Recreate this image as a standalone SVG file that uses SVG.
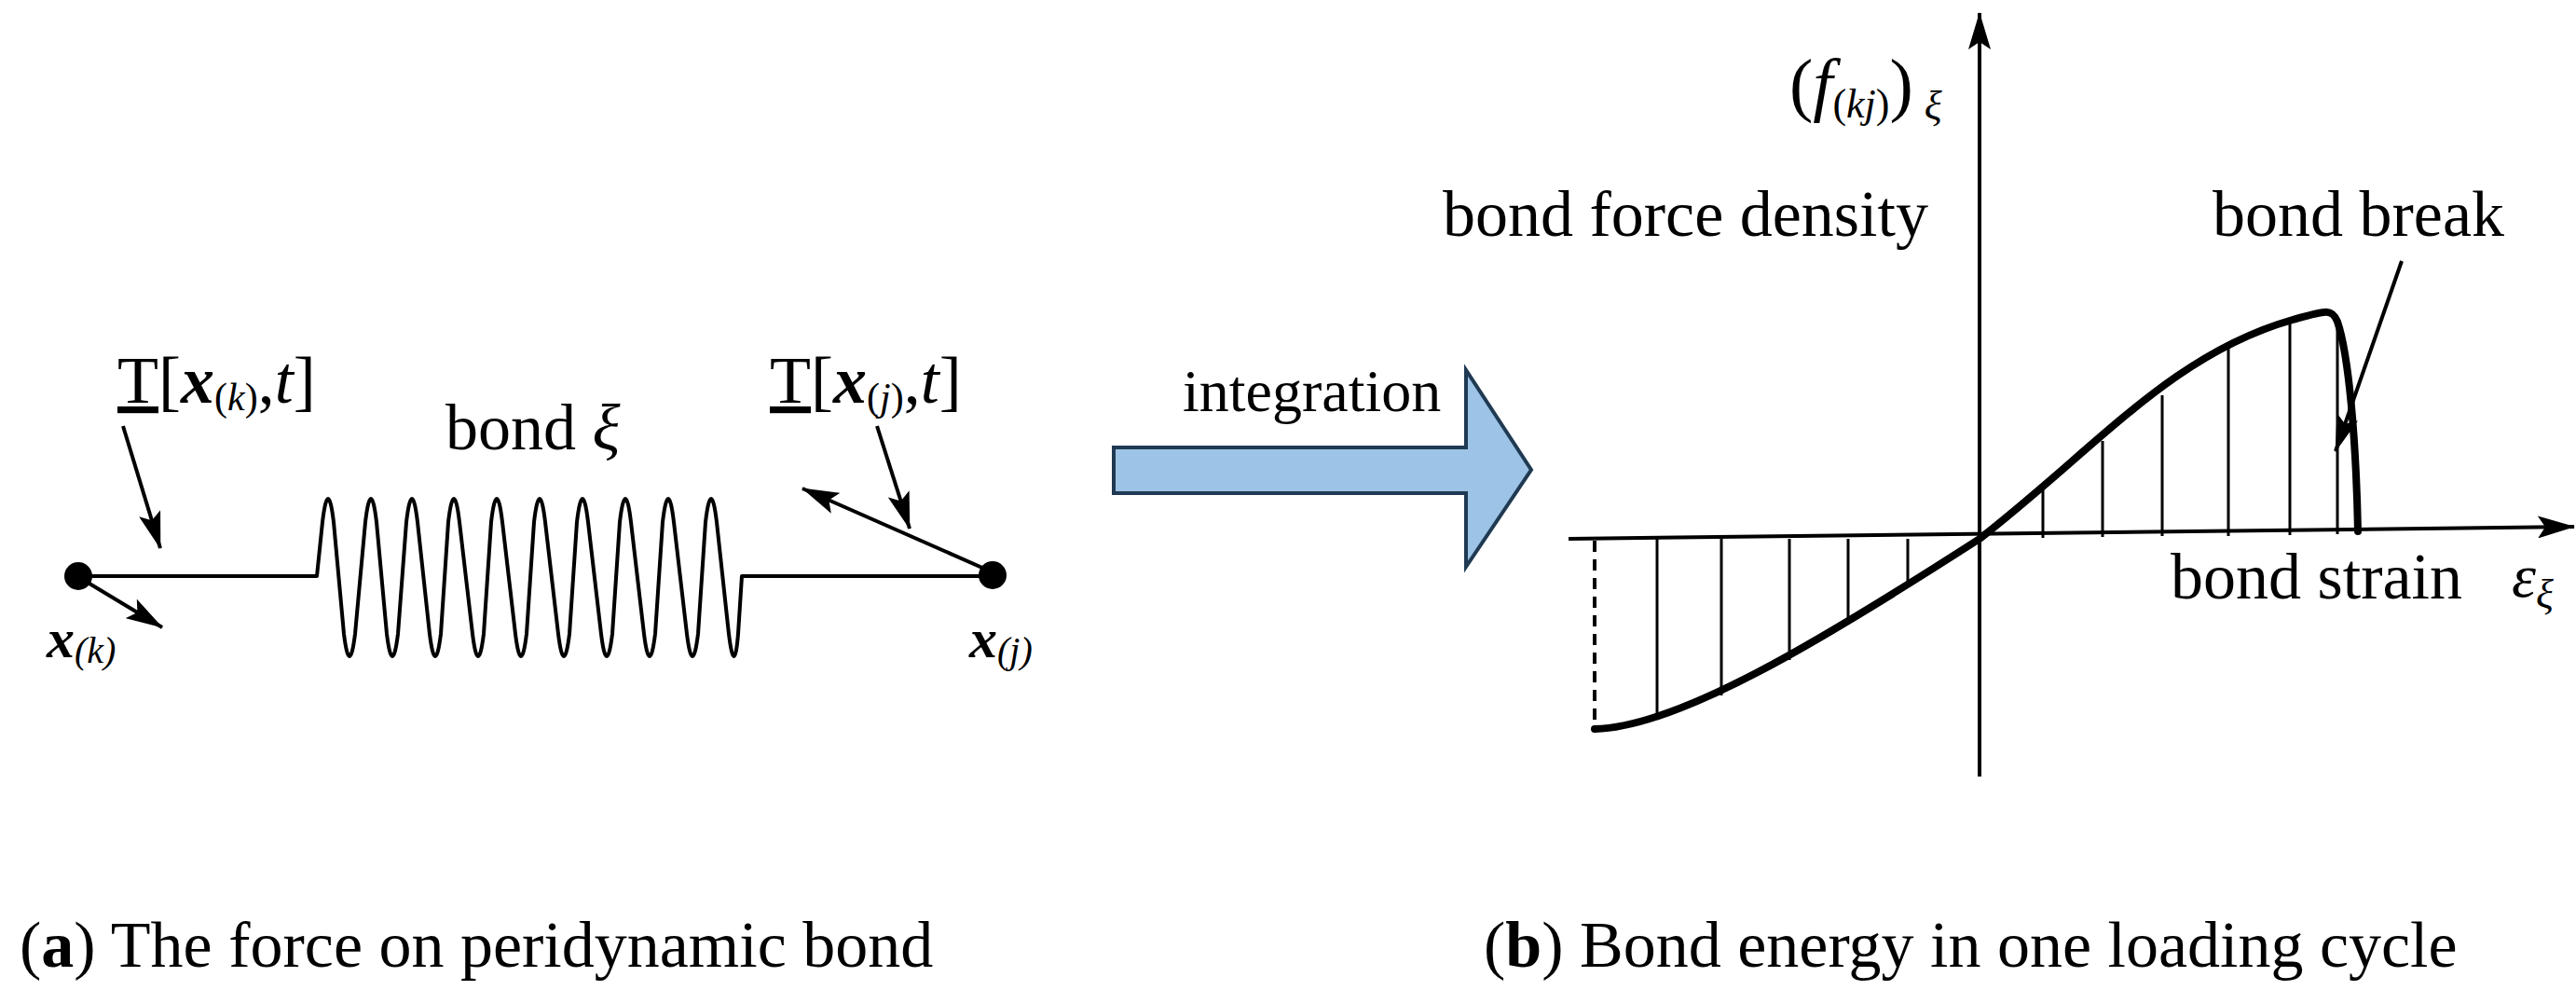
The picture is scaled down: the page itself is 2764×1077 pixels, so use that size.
<svg xmlns="http://www.w3.org/2000/svg" width="2764" height="1077" viewBox="0 0 2764 1077" font-family="'Liberation Serif','Times New Roman','DejaVu Serif',serif">
<style>
text{font-family:"Liberation Serif","Times New Roman","DejaVu Serif",serif;fill:#000}
.t{font-size:70px}
.l{stroke:#000;fill:none;stroke-width:4}
.th{stroke:#000;fill:none;stroke-width:8;stroke-linecap:round}
</style>
<defs>
<marker id="ahb" viewBox="0 0 40 24" refX="39" refY="12" markerWidth="40" markerHeight="24" markerUnits="userSpaceOnUse" orient="auto"><path d="M0,0 L40,12 L0,24 L8,12 Z" fill="#000"/></marker>
</defs>
<rect width="2764" height="1077" fill="#fff"/>
<g id="bond">
<path class="l" stroke-linejoin="round" d="M84,618 H340 L346,560 Q352,510 358,560 L369,680 Q375,728 381,680 L392,560 Q398,510 404,560 L415,680 Q421,728 427,680 L436,560 Q442,510 448,560 L461,680 Q467,728 473,680 L481,560 Q487,510 493,560 L507,680 Q513,728 519,680 L527,560 Q533,510 539,560 L553,680 Q559,728 565,680 L573,560 Q579,510 585,560 L599,680 Q605,728 611,680 L619,560 Q625,510 631,560 L645,680 Q651,728 657,680 L665,560 Q671,510 677,560 L691,680 Q697,728 703,680 L711,560 Q717,510 723,560 L737,680 Q743,728 749,680 L757,560 Q763,510 769,560 L782,680 Q788,728 792,680 L796,618 H1065"/>
</g>
<g id="node-xk"><circle cx="84" cy="618" r="15" fill="#000"/>
<text x="50" y="705" font-size="60" font-style="italic" font-weight="bold">x<tspan font-size="40" font-weight="normal" dy="6">(k)</tspan></text></g>
<g id="node-xj"><circle cx="1065" cy="617" r="15" fill="#000"/>
<text x="1040" y="705" font-size="60" font-style="italic" font-weight="bold">x<tspan font-size="40" font-weight="normal" dy="6">(j)</tspan></text></g>
<g id="labels-a">
<text x="126" y="432" font-size="72"><tspan text-decoration="underline">T</tspan>[<tspan font-style="italic" font-weight="bold">x</tspan><tspan font-size="42" dy="8">(<tspan font-style="italic">k</tspan>)</tspan><tspan dy="-8">,</tspan><tspan font-style="italic">t</tspan>]</text>
<text x="826" y="432" font-size="72"><tspan text-decoration="underline">T</tspan>[<tspan font-style="italic" font-weight="bold">x</tspan><tspan font-size="42" dy="8">(<tspan font-style="italic">j</tspan>)</tspan><tspan dy="-8">,</tspan><tspan font-style="italic">t</tspan>]</text>
<text x="478" y="482" class="t">bond <tspan font-style="italic">ξ</tspan></text>
</g>
<g id="connectors">
<line class="l" x1="86" y1="620" x2="174" y2="673" marker-end="url(#ahb)"/>
<line class="l" x1="132" y1="457" x2="172" y2="588" marker-end="url(#ahb)"/>
<line class="l" x1="941" y1="457" x2="976" y2="567" marker-end="url(#ahb)"/>
<line class="l" x1="1063" y1="613" x2="861" y2="524" marker-end="url(#ahb)"/>
<line class="l" x1="2577" y1="280" x2="2506" y2="484" stroke-width="3" marker-end="url(#ahb)"/>
</g>
<g id="integration-arrow">
<path d="M1195,480 H1573 V397 L1643,504 L1573,608 V529 H1195 Z" fill="#9dc3e6" stroke="#1f3a52" stroke-width="4"/>
<text x="1269" y="441" font-size="64">integration</text>
</g>
<g id="chart">
<line class="l" x1="2124" y1="833" x2="2124" y2="14" marker-end="url(#ahb)"/>
<line class="l" x1="1683" y1="578" x2="2762" y2="565" marker-end="url(#ahb)"/>
<line class="l" x1="1711" y1="580" x2="1711" y2="782" stroke-dasharray="12,8" stroke-width="3"/>
<g stroke="#000" stroke-width="3">
<line x1="1778" y1="578" x2="1778" y2="768"/>
<line x1="1847" y1="578" x2="1847" y2="746"/>
<line x1="1920" y1="578" x2="1920" y2="708"/>
<line x1="1983" y1="578" x2="1983" y2="670"/>
<line x1="2047" y1="578" x2="2047" y2="628"/>
<line x1="2192" y1="577" x2="2192" y2="522"/>
<line x1="2256" y1="576" x2="2256" y2="473"/>
<line x1="2320" y1="575" x2="2320" y2="424"/>
<line x1="2391" y1="575" x2="2391" y2="374"/>
<line x1="2457" y1="574" x2="2457" y2="345"/>
<line x1="2508" y1="573" x2="2508" y2="342"/>
</g>
<path class="th" d="M1711,782 C1800,780 1950,690 2124,578 C2250,480 2330,380 2460,343 C2495,333 2502,330 2508,345 C2520,380 2528,470 2530,570"/>
<text x="1920" y="116" font-size="76">(<tspan font-style="italic">f</tspan><tspan font-size="44" dy="10">(<tspan font-style="italic">kj</tspan>)</tspan><tspan dy="-10">)</tspan><tspan font-size="44" font-style="italic" dx="12" dy="12">ξ</tspan></text>
<text x="1548" y="253" class="t">bond force density</text>
<text x="2374" y="253" class="t">bond break</text>
<text x="2329" y="642" class="t">bond strain</text>
<text x="2695" y="640" font-size="66" font-style="italic">ε<tspan font-size="44" dy="12">ξ</tspan></text>
</g>
<g id="captions">
<text x="21" y="1037" class="t">(<tspan font-weight="bold">a</tspan>) The force on peridynamic bond</text>
<text x="1592" y="1037" class="t">(<tspan font-weight="bold">b</tspan>) Bond energy in one loading cycle</text>
</g>
</svg>
